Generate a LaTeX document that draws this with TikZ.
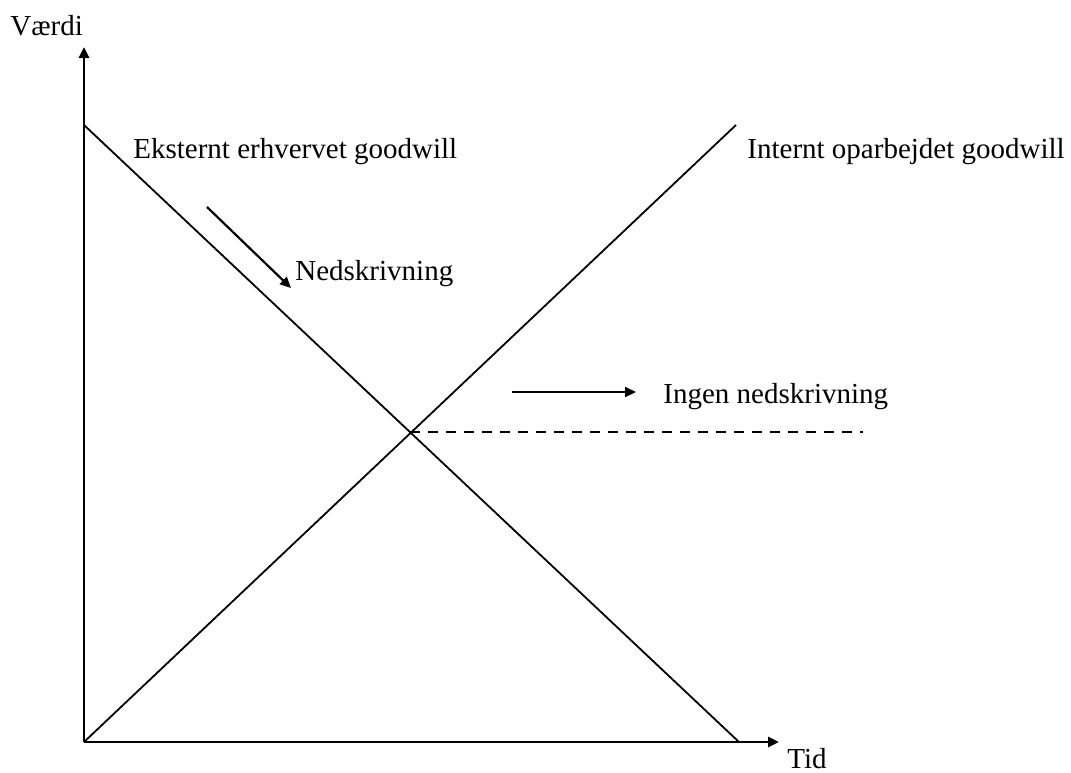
\documentclass[tikz,border=0pt]{standalone}
\usepackage{fontspec}
\setmainfont{Liberation Serif}
\usetikzlibrary{arrows.meta}
\begin{document}
\begin{tikzpicture}[x=0.5pt,y=-0.5pt,
  axis/.style={line width=1.3pt,-{Triangle[length=5.5pt,width=5pt]}},
  curve/.style={line width=0.9pt},
  hint/.style={line width=1.1pt,-{Triangle[length=5.5pt,width=5pt]}},
  lbl/.style={inner sep=0pt,anchor=base west,font=\fontsize{14.5pt}{17pt}\selectfont},
  dashline/.style={line width=0.9pt,dash pattern=on 5pt off 4pt}]
\useasboundingbox (0,0) rectangle (1071,772);
% points
\coordinate (O) at (84,742);
\coordinate (ytip) at (84,47);
\coordinate (xtip) at (779,742);
\coordinate (A) at (84,125);
\coordinate (B) at (739,742);
\coordinate (C) at (736,125);
\coordinate (X) at (410,432);
\coordinate (D) at (863,432);
\coordinate (n1) at (207,207);
\coordinate (n2) at (291,288);
\coordinate (i1) at (512,392);
\coordinate (i2) at (636,392);
% axes
\draw[axis] (O) -- (ytip);
\draw[axis] (O) -- (xtip);
% lines
\draw[curve] (A) -- (B);
\draw[curve] (O) -- (C);
\draw[dashline] (X) -- (D);
% hint arrows
\draw[hint] (n1) -- (n2);
\draw[hint] (i1) -- (i2);
% labels
\node[lbl] (vaerdi) at (10,35) {Værdi};
\node[lbl] (tid) at (787,768) {Tid};
\node[lbl] (ext) at (133,158) {Eksternt erhvervet goodwill};
\node[lbl] (int) at (747,158) {Internt oparbejdet goodwill};
\node[lbl] (ned) at (295,280) {Nedskrivning};
\node[lbl] (ingen) at (663,403) {Ingen nedskrivning};
\end{tikzpicture}
\end{document}
